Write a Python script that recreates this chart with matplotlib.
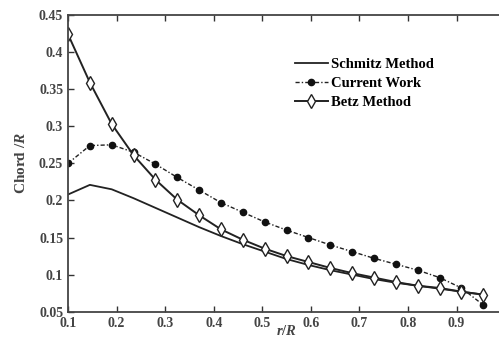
import matplotlib
matplotlib.use("Agg")
import matplotlib.pyplot as plt

# r/R stations shared by all three curves
r_over_R = [0.100, 0.145, 0.190, 0.235, 0.280, 0.325, 0.370, 0.415, 0.460, 0.505,
            0.550, 0.595, 0.640, 0.685, 0.730, 0.775, 0.820, 0.865, 0.910, 0.955]

schmitz = [0.208, 0.221, 0.215, 0.203, 0.190, 0.177, 0.164, 0.152, 0.141, 0.131,
           0.121, 0.113, 0.106, 0.100, 0.094, 0.089, 0.085, 0.081, 0.077, 0.073]

current_work = [0.250, 0.274, 0.275, 0.265, 0.249, 0.231, 0.214, 0.197, 0.184, 0.171,
                0.160, 0.150, 0.140, 0.131, 0.122, 0.114, 0.106, 0.096, 0.082, 0.059]

betz = [0.424, 0.359, 0.303, 0.261, 0.228, 0.201, 0.180, 0.161, 0.147, 0.135,
        0.125, 0.117, 0.109, 0.102, 0.096, 0.090, 0.085, 0.082, 0.077, 0.073]

x_ticks = [0.1, 0.2, 0.3, 0.4, 0.5, 0.6, 0.7, 0.8, 0.9]
x_tick_labels = ["0.1", "0.2", "0.3", "0.4", "0.5", "0.6", "0.7", "0.8", "0.9"]
y_ticks = [0.05, 0.1, 0.15, 0.2, 0.25, 0.3, 0.35, 0.4, 0.45]
y_tick_labels = ["0.05", "0.1", "0.15", "0.2", "0.25", "0.3", "0.35", "0.4", "0.45"]

plt.rcParams["font.family"] = ["Liberation Serif", "DejaVu Serif"]
plt.rcParams["font.weight"] = "bold"
plt.rcParams["axes.labelweight"] = "bold"
plt.rcParams["mathtext.fontset"] = "custom"
plt.rcParams["mathtext.it"] = "Liberation Serif:italic:bold"
plt.rcParams["mathtext.rm"] = "Liberation Serif:bold"

fig = plt.figure(figsize=(4.99, 3.42), dpi=100)
# right spine sits just outside the image, as in the cropped original
ax = fig.add_axes([0.1363, 0.0886, 0.876, 0.8675])

ax.plot(r_over_R, schmitz, color="#222222", linewidth=1.3, label="Schmitz Method")
ax.plot(r_over_R, current_work, color="#222222", linewidth=1.0, linestyle=(0, (3, 1.5, 1, 1.5)),
        marker="o", markersize=4.5, markerfacecolor="#111111", markeredgecolor="#111111",
        label="Current Work")
ax.plot(r_over_R, betz, color="#222222", linewidth=1.4, marker="d", markersize=7,
        markerfacecolor="white", markeredgecolor="#222222", markeredgewidth=1.0,
        label="Betz Method")

ax.set_xlim(0.1, 1.0)
ax.set_ylim(0.05, 0.45)
ax.set_xticks(x_ticks)
ax.set_xticklabels(x_tick_labels)
ax.set_yticks(y_ticks)
ax.set_yticklabels(y_tick_labels)
ax.tick_params(direction="in", top=True, right=True, length=4, width=1.0,
               labelsize=10, colors="#333333", labelcolor="#444444")
for s in ax.spines.values():
    s.set_linewidth(1.3)
    s.set_color("#444444")

ax.set_xlabel(r"$r/R$", fontsize=10.5, labelpad=-4, color="#444444")
ax.set_ylabel(r"Chord /$R$", fontsize=11, labelpad=8, color="#444444")

ax.legend(loc="upper left", bbox_to_anchor=(0.505, 0.875), frameon=False,
          fontsize=10.5, handlelength=2.3, handletextpad=0.2, labelspacing=0.38,
          borderaxespad=0)

fig.savefig("out.png", dpi=100)
